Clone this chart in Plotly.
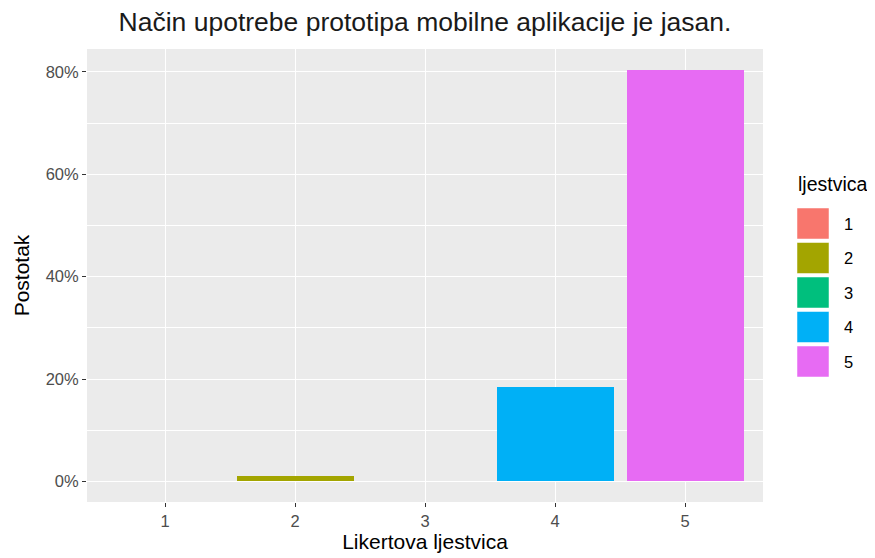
import plotly.graph_objects as go

categories = [1, 2, 3, 4, 5]
category_labels = ["1", "2", "3", "4", "5"]
percentages = [0.0, 1.15, 0.0, 18.39, 80.46]
colors = ["#F8766D", "#A3A500", "#00BF7D", "#00B0F6", "#E76BF3"]
y_ticks = [0, 20, 40, 60, 80]
y_tick_labels = ["0%", "20%", "40%", "60%", "80%"]

title_text = "Način upotrebe prototipa mobilne aplikacije je jasan."
x_title = "Likertova ljestvica"
y_title = "Postotak"
legend_title = "ljestvica"

FONT = "Liberation Sans, Arial, sans-serif"

# page has an 8px body margin; figure drawn in 867x550 so that panel lands at
# page coords x 87..763, y 49..502
OFF = 8
FW, FH = 875 - OFF, 558 - OFF
PL, PR, PT, PB = 87 - OFF, 763 - OFF, 49 - OFF, 502 - OFF
PW, PH = PR - PL, PB - PT

def px(x):
    return (x - OFF - PL) / PW

def py(y):
    return 1 - (y - OFF - PT) / PH

fig = go.Figure()
fig.add_trace(go.Bar(
    x=categories, y=percentages, width=0.9,
    marker=dict(color=colors, line=dict(width=0)),
    showlegend=False, hoverinfo="x+y",
))

ymax = max(percentages)
pad = ymax * 0.05

fig.update_layout(
    width=FW, height=FH,
    margin=dict(l=PL, r=FW - PR, t=PT, b=FH - PB, autoexpand=False),
    paper_bgcolor="white",
    plot_bgcolor="#EBEBEB",
    font=dict(family=FONT, color="#000000"),
    title=dict(text=title_text, x=(PL + PR) / 2 / FW, xanchor="center",
               y=1 - (22 - OFF) / FH, yanchor="middle",
               font=dict(size=26.5, color="#1A1A1A", family=FONT)),
    bargap=0,
)
fig.update_xaxes(
    range=[0.4, 5.6], tickvals=categories, ticktext=category_labels,
    showgrid=True, gridcolor="white", gridwidth=1.1, zeroline=False,
    ticks="outside", ticklen=4, tickcolor="#333333", tickwidth=1.1,
    tickfont=dict(size=16.5, color="#4D4D4D"),
    title=dict(text=x_title, font=dict(size=21, color="#000000"), standoff=4),
    showline=False,
)
fig.update_yaxes(
    range=[-pad, ymax + pad], tickvals=y_ticks, ticktext=y_tick_labels,
    showgrid=True, gridcolor="white", gridwidth=1.1, zeroline=False,
    ticks="outside", ticklen=4, tickcolor="#333333", tickwidth=1.1,
    tickfont=dict(size=16.5, color="#4D4D4D"),
    title=dict(text=y_title, font=dict(size=21, color="#000000"), standoff=10),
    minor=dict(dtick=10, tick0=0, showgrid=True, gridcolor="white", gridwidth=0.5, ticks=""),
    showline=False,
)

# manual legend (ggplot-style large keys)
key_x0, key_w, key_h, key_step, key_y0 = 797, 32, 31, 34.5, 208
fig.add_annotation(text=legend_title, xref="paper", yref="paper",
                   x=px(796), y=py(184),
                   xanchor="left", yanchor="middle", showarrow=False,
                   font=dict(size=19.5, color="#000000"))
for i, (lab, col) in enumerate(zip(category_labels, colors)):
    y0 = key_y0 + i * key_step
    fig.add_shape(type="rect", xref="paper", yref="paper",
                  x0=px(key_x0), x1=px(key_x0 + key_w),
                  y0=py(y0 + key_h), y1=py(y0),
                  fillcolor=col, line=dict(width=0.5, color="white"))
    fig.add_annotation(text=lab, xref="paper", yref="paper",
                       x=px(842), y=py(y0 + key_h / 2),
                       xanchor="left", yanchor="middle", showarrow=False,
                       font=dict(size=16.5, color="#000000"))

fig.write_html("out.html")
